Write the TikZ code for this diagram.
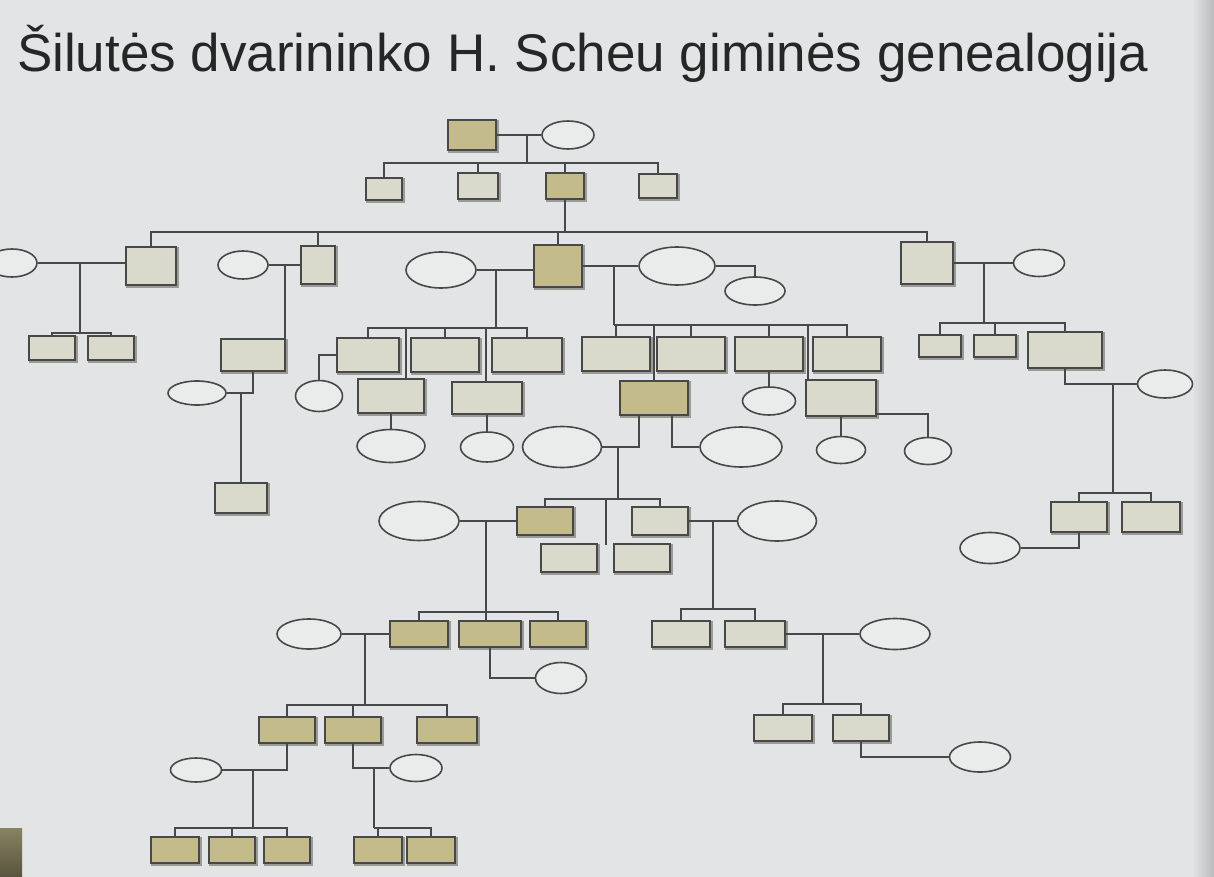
\documentclass[tikz,border=0pt]{standalone}
\usepackage{fontspec}
\setmainfont{Liberation Sans}
\usetikzlibrary{shapes.geometric}
\definecolor{paper}{RGB}{226,228,229}
\definecolor{olivebox}{RGB}{196,187,140}
\definecolor{palebox}{RGB}{218,218,204}
\definecolor{oval}{RGB}{234,235,235}
\definecolor{linec}{RGB}{72,72,72}
\definecolor{shade}{RGB}{155,155,150}
\begin{document}
\begin{tikzpicture}[x=0.5pt, y=-0.5pt,
    wh/.style 2 args={minimum width=#1*0.5pt, minimum height=#2*0.5pt},
    heir/.style={rectangle, draw=linec, fill=olivebox, line width=1pt, inner sep=0pt,
        preaction={draw=shade, line width=1.6pt, transform canvas={xshift=0.8pt, yshift=-0.8pt}}},
    kin/.style={heir, fill=palebox},
    spouse/.style={ellipse, draw=linec, fill=oval, line width=0.8pt, inner sep=0pt},
    edge/.style={draw=linec, line width=0.8pt}
]
    \fill[paper] (0,0) rectangle (1214,877);
    \shade[left color=paper, right color=paper!82!black] (1192,0) rectangle (1214,877);
    \shade[top color=black!30!olivebox, bottom color=black!55!olivebox] (0,828) rectangle (22,877);
    \useasboundingbox (0,0) rectangle (1214,877);

    \node[anchor=base west, font=\fontsize{26.5}{30}\selectfont, text=black!85] (title) at (10,72)
        {Šilutės dvarininko H. Scheu giminės genealogija};

    % first generations
    \node[heir, wh={48}{30}] (g1) at (472,135) {};
    \node[spouse, wh={52}{28}] (w1) at (568,135) {};
    \node[kin, wh={36}{22}] (c1) at (384,189) {};
    \node[kin, wh={40}{26}] (c2) at (478,186) {};
    \node[heir, wh={38}{26}] (c3) at (565,186) {};
    \node[kin, wh={38}{24}] (c4) at (658,186) {};
    \coordinate (j1) at (527,135);
    \coordinate (b1) at (527,163);
    \draw[edge] (g1) -- (w1);
    \draw[edge] (j1) -- (b1);
    \draw[edge] (c1.north) |- (b1) -| (c4.north);
    \draw[edge] (c2.north) -- (c2.north |- b1);
    \draw[edge] (c3.north) -- (c3.north |- b1);

    \node[kin, wh={50}{38}] (a1) at (151,266) {};
    \node[kin, wh={34}{38}] (bb) at (318,265) {};
    \node[heir, wh={48}{42}] (cc) at (558,266) {};
    \node[kin, wh={52}{42}] (qq) at (927,263) {};
    \coordinate (b2) at (565,232);
    \draw[edge] (c3.south) -- (b2);
    \draw[edge] (a1.north) |- (b2) -| (qq.north);
    \draw[edge] (bb.north) -- (bb.north |- b2);
    \draw[edge] (cc.north) -- (cc.north |- b2);

    % far left
    \node[spouse, wh={50}{28}] (a0) at (12,263) {};
    \node[kin, wh={46}{24}] (a2) at (52,348) {};
    \node[kin, wh={46}{24}] (a3) at (111,348) {};
    \coordinate (ja) at (80,263);
    \coordinate (ba) at (80,333);
    \draw[edge] (a0.east) -- (a0.east -| a1.west);
    \draw[edge] (ja) -- (ba);
    \draw[edge] (a2.north) |- (ba) -| (a3.north);

    \node[spouse, wh={50}{28}] (bw) at (243,265) {};
    \node[kin, wh={64}{32}] (bc) at (253,355) {};
    \node[spouse, wh={58}{24}] (bd) at (197,393) {};
    \node[kin, wh={52}{30}] (be) at (241,498) {};
    \coordinate (jb) at (285,265);
    \coordinate (jbd) at (241,393);
    \draw[edge] (bw) -- (bb);
    \draw[edge] (jb) -- (jb |- bc.north);
    \draw[edge] (bc.south) |- (bd.east);
    \draw[edge] (jbd) -- (be.north);

    % central couple
    \node[spouse, wh={70}{36}] (cl) at (441,270) {};
    \node[spouse, wh={76}{38}] (cr) at (677,266) {};
    \node[spouse, wh={60}{28}] (cr2) at (755,291) {};
    \coordinate (jcl) at (496,270);
    \coordinate (bcl) at (496,328);
    \coordinate (jcr) at (614,266);
    \coordinate (bcr) at (614,325);
    \draw[edge] (cl.east) -- (cl.east -| cc.west);
    \draw[edge] (cc) -- (cr);
    \draw[edge] (cr.east) -| (cr2.north);
    \draw[edge] (jcl) -- (bcl);
    \draw[edge] (jcr) -- (bcr);

    \node[kin, wh={62}{34}] (d1) at (368,355) {};
    \node[kin, wh={68}{34}] (d2) at (445,355) {};
    \node[kin, wh={70}{34}] (d3) at (527,355) {};
    \node[kin, wh={66}{34}] (d4) at (391,396) {};
    \node[kin, wh={70}{32}] (d5) at (487,398) {};
    \node[spouse, wh={47}{31}] (e1) at (319,396) {};
    \node[spouse, wh={68}{33}] (e4) at (391,446) {};
    \node[spouse, wh={53}{30}] (e5) at (487,447) {};
    \coordinate (t4) at (406,328);
    \coordinate (t5) at (486,328);
    \draw[edge] (d1.north) |- (bcl) -| (d3.north);
    \draw[edge] (d2.north) -- (d2.north |- bcl);
    \draw[edge] (t4) -- (t4 |- d4.north);
    \draw[edge] (t5) -- (t5 |- d5.north);
    \draw[edge] (d1.west) -| (e1.north);
    \draw[edge] (d4) -- (e4);
    \draw[edge] (d5) -- (e5);

    \node[kin, wh={68}{34}] (f1) at (616,354) {};
    \node[kin, wh={68}{34}] (f2) at (691,354) {};
    \node[kin, wh={68}{34}] (f3) at (769,354) {};
    \node[kin, wh={68}{34}] (f4) at (847,354) {};
    \node[heir, wh={68}{34}] (dd) at (654,398) {};
    \node[kin, wh={70}{36}] (f5) at (841,398) {};
    \node[spouse, wh={53}{28}] (g3) at (769,401) {};
    \node[spouse, wh={49}{27}] (g5) at (841,450) {};
    \node[spouse, wh={47}{27}] (g6) at (928,451) {};
    \coordinate (t6) at (654,325);
    \coordinate (t7) at (808,325);
    \coordinate (k6) at (928,414);
    \draw[edge] (f1.north) |- (bcr) -| (f4.north);
    \draw[edge] (f2.north) -- (f2.north |- bcr);
    \draw[edge] (f3.north) -- (f3.north |- bcr);
    \draw[edge] (t6) -- (t6 |- dd.north);
    \draw[edge] (t7) -- (t7 |- f5.north);
    \draw[edge] (f3) -- (g3);
    \draw[edge] (f5) -- (g5);
    \draw[edge] (f5.east |- k6) -- (k6) -- (g6.north);

    % heir of the estate
    \node[spouse, wh={79}{41}] (dl) at (562,447) {};
    \node[spouse, wh={82}{40}] (dr) at (741,447) {};
    \coordinate (m1) at (639,447);
    \coordinate (m2) at (672,447);
    \coordinate (jd) at (618,447);
    \coordinate (bd2) at (618,499);
    \draw[edge] (m1 |- dd.south) -- (m1) -- (dl.east);
    \draw[edge] (m2 |- dd.south) -- (m2) -- (dr.west);
    \draw[edge] (jd) -- (bd2);

    \node[heir, wh={56}{28}] (h1) at (545,521) {};
    \node[kin, wh={56}{28}] (h2) at (660,521) {};
    \node[kin, wh={56}{28}] (i1) at (569,558) {};
    \node[kin, wh={56}{28}] (i2) at (642,558) {};
    \coordinate (t8) at (606,499);
    \coordinate (t9) at (606,545);
    \draw[edge] (h1.north) |- (bd2) -| (h2.north);
    \draw[edge] (t8) -- (t9);

    \node[spouse, wh={80}{39}] (hl) at (419,521) {};
    \node[spouse, wh={79}{40}] (hr) at (777,521) {};
    \coordinate (jh1) at (486,521);
    \coordinate (bh1) at (486,612);
    \coordinate (jh2) at (713,521);
    \coordinate (bh2) at (713,609);
    \draw[edge] (hl) -- (h1);
    \draw[edge] (h2) -- (hr);
    \draw[edge] (jh1) -- (bh1);
    \draw[edge] (jh2) -- (bh2);

    % lower left
    \node[heir, wh={58}{26}] (k1) at (419,634) {};
    \node[heir, wh={62}{26}] (k2) at (490,634) {};
    \node[heir, wh={56}{26}] (k3) at (558,634) {};
    \node[spouse, wh={64}{30}] (kl) at (309,634) {};
    \node[spouse, wh={51}{31}] (k2s) at (561,678) {};
    \coordinate (jk) at (365,634);
    \coordinate (bk) at (365,705);
    \draw[edge] (k1.north) |- (bh1) -| (k3.north);
    \draw[edge] (bh1) -- (bh1 |- k2.north);
    \draw[edge] (kl) -- (k1);
    \draw[edge] (k2.south) |- (k2s.west);
    \draw[edge] (jk) -- (bk);

    \node[heir, wh={56}{26}] (q1) at (287,730) {};
    \node[heir, wh={56}{26}] (q2) at (353,730) {};
    \node[heir, wh={60}{26}] (q3) at (447,730) {};
    \node[spouse, wh={51}{24}] (ql) at (196,770) {};
    \node[spouse, wh={52}{27}] (qr) at (416,768) {};
    \coordinate (jq1) at (253,770);
    \coordinate (bq1) at (253,828);
    \coordinate (jq2) at (374,768);
    \coordinate (bq2) at (374,828);
    \draw[edge] (q1.north) |- (bk) -| (q3.north);
    \draw[edge] (q2.north) -- (q2.north |- bk);
    \draw[edge] (q1.south) |- (ql.east);
    \draw[edge] (q2.south) |- (qr.west);
    \draw[edge] (jq1) -- (bq1);
    \draw[edge] (jq2) -- (bq2);

    \node[heir, wh={48}{26}] (r1) at (175,850) {};
    \node[heir, wh={46}{26}] (r2) at (232,850) {};
    \node[heir, wh={46}{26}] (r3) at (287,850) {};
    \node[heir, wh={48}{26}] (s1) at (378,850) {};
    \node[heir, wh={48}{26}] (s2) at (431,850) {};
    \draw[edge] (r1.north) |- (bq1) -| (r3.north);
    \draw[edge] (r2.north) -- (r2.north |- bq1);
    \draw[edge] (s1.north) |- (bq2) -| (s2.north);

    % lower right
    \node[kin, wh={58}{26}] (n1) at (681,634) {};
    \node[kin, wh={60}{26}] (n2) at (755,634) {};
    \node[spouse, wh={70}{31}] (nr) at (895,634) {};
    \coordinate (jn) at (823,634);
    \coordinate (bn) at (823,704);
    \draw[edge] (n1.north) |- (bh2) -| (n2.north);
    \draw[edge] (n2) -- (nr);
    \draw[edge] (jn) -- (bn);

    \node[kin, wh={58}{26}] (p1) at (783,728) {};
    \node[kin, wh={56}{26}] (p2) at (861,728) {};
    \node[spouse, wh={61}{30}] (pr) at (980,757) {};
    \draw[edge] (p1.north) |- (bn) -| (p2.north);
    \draw[edge] (p2.south) |- (pr.west);

    % right branch
    \node[spouse, wh={51}{27}] (qw) at (1039,263) {};
    \node[kin, wh={42}{22}] (u1) at (940,346) {};
    \node[kin, wh={42}{22}] (u2) at (995,346) {};
    \node[kin, wh={74}{36}] (u3) at (1065,350) {};
    \coordinate (jqq) at (984,263);
    \coordinate (bqq) at (984,323);
    \draw[edge] (qq) -- (qw);
    \draw[edge] (jqq) -- (bqq);
    \draw[edge] (u1.north) |- (bqq) -| (u3.north);
    \draw[edge] (u2.north) -- (u2.north |- bqq);

    \node[spouse, wh={55}{28}] (uw) at (1165,384) {};
    \node[kin, wh={56}{30}] (v1) at (1079,517) {};
    \node[kin, wh={58}{30}] (v2) at (1151,517) {};
    \node[spouse, wh={60}{31}] (vw) at (990,548) {};
    \coordinate (ju) at (1113,384);
    \coordinate (bu) at (1113,493);
    \draw[edge] (u3.south) |- (uw.west);
    \draw[edge] (ju) -- (bu);
    \draw[edge] (v1.north) |- (bu) -| (v2.north);
    \draw[edge] (v1.south) |- (vw.east);
\end{tikzpicture}
\end{document}
